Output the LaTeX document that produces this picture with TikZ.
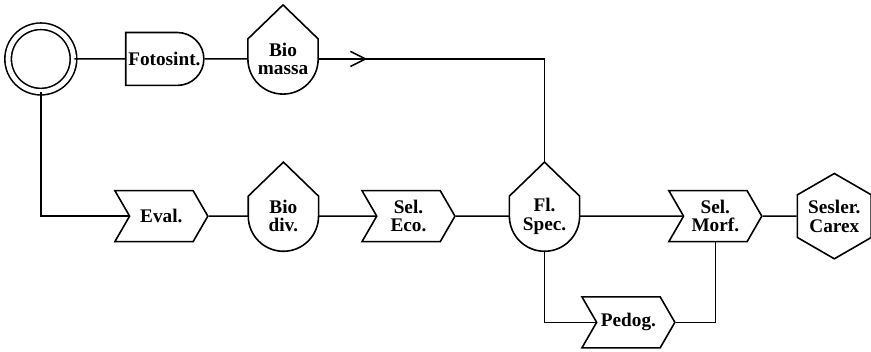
\documentclass[tikz,border=0pt]{standalone}
\usepackage{fontspec}
\setmainfont{Liberation Serif}
\usetikzlibrary{shapes.geometric, shapes.symbols, shapes.misc, arrows.meta, decorations.markings, calc}

% drop shaped store: name, position, text
\newcommand{\dropnode}[3]{%
  \node[drop] (#1) at (#2) {#3};
  \coordinate (#1-top) at ($(#1.center)+(0,1.43)$);
  \draw (#1-top) -- ($(#1.center)+(0.93,0.53)$) -- (#1.east)
    arc[start angle=0, end angle=-180, radius=0.93] -- ($(#1.center)+(-0.93,0.53)$) -- cycle;
}

\begin{document}
\begin{tikzpicture}[
  line width=1.2pt,
  font=\fontsize{14.5}{14}\selectfont\bfseries,
  source/.style={circle, draw, double, double distance=3.7pt, minimum size=1.73cm},
  delay/.style={rounded rectangle, rounded rectangle west arc=none, draw, minimum width=2.30cm, minimum height=1.40cm, align=center},
  drop/.style={circle, minimum size=1.86cm, inner sep=0pt, outer sep=0pt, align=center},
  chevron/.style={signal, signal from=west, signal to=east, signal pointer angle=120, draw, minimum width=2.46cm, minimum height=1.35cm, inner sep=1pt, align=center},
  store/.style={regular polygon, regular polygon sides=6, shape border rotate=30, draw, minimum size=2.04cm, inner sep=0pt, align=center},
  flow/.style={postaction={decorate}, decoration={markings, mark=at position 1.3cm with {\arrow{Straight Barb[length=4mm, width=4mm]}}}}
]
\useasboundingbox (0,0) rectangle (23.05,-9.29);

\node[source] (src) at (1.08, -1.56) {};
\node[delay] (fotosint) at (4.35, -1.56) {Fotosint.};
\dropnode{biomassa}{7.49, -1.56}{Bio\\massa}

\node[chevron] (eval) at (4.27, -5.72) {Eval.};
\dropnode{biodiv}{7.50, -5.72}{Bio\\div.}
\node[chevron] (seleco) at (10.81, -5.72) {Sel.\\Eco.};
\dropnode{flspec}{14.41, -5.72}{Fl.\\Spec.}
\node[chevron] (selmorf) at (18.93, -5.72) {Sel.\\Morf.};
\node[store] (sesler) at (22.08, -5.72) {Sesler.\\Carex};
\node[chevron] (pedog) at (16.63, -8.53) {Pedog.};

\draw (src) -- (fotosint);
\draw (fotosint) -- (biomassa);
\draw[flow] (biomassa.east) -| (flspec-top);
\draw (src) |- (eval);
\draw (eval) -- (biodiv);
\draw (biodiv) -- (seleco);
\draw (seleco) -- (flspec);
\draw (flspec) -- (selmorf);
\draw (selmorf) -- (sesler);
\draw (flspec) |- (pedog);
\draw (pedog) -| (selmorf);

\end{tikzpicture}
\end{document}
